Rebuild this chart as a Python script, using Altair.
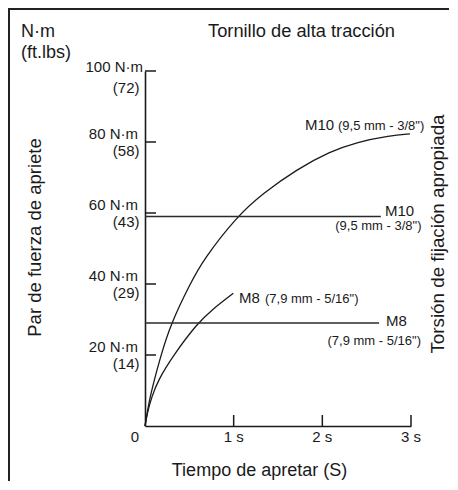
import altair as alt
import pandas as pd

# ---------------- data ----------------
m10_t = [0, 0.025, 0.056, 0.177, 0.293, 0.508, 0.657, 1.034, 1.334, 1.711, 2.086, 2.391, 2.763, 2.988]
m10_v = [0, 3.7, 8.3, 19.8, 28.9, 40.0, 46.8, 59.0, 65.6, 72.3, 77.3, 80.0, 81.8, 82.3]

m8_t = [0, 0.026, 0.076, 0.15, 0.316, 0.59, 0.752, 0.996]
m8_v = [0, 3.7, 8.25, 13.0, 19.8, 28.9, 32.7, 37.4]

ref_names = ["M10", "M8"]
ref_values = [59, 29]
ref_ends = [2.66, 2.64]

y_tick_values = [20, 40, 60, 80, 100]
y_tick_nm = ["20 N·m", "40 N·m", "60 N·m", "80 N·m", "100 N·m"]
y_tick_ft = ["(14)", "(29)", "(43)", "(58)", "(72)"]

x_tick_values = [1, 2, 3]
x_tick_labels = ["1 s", "2 s", "3 s"]
x_zero_label = ["0"]

title_text = "Tornillo de alta tracción"
unit_text = ["N·m", "(ft.lbs)"]
y_title = "Par de fuerza de apriete"
right_title = "Torsión de fijación apropiada"
x_title = "Tiempo de apretar (S)"
size_m10 = "(9,5 mm - 3/8\")"
size_m8 = "(7,9 mm - 5/16\")"

# ---------------- layout / style ----------------
W, H = 266, 355
FONT = "Liberation Sans, Arial, sans-serif"
INK = "#1a1a1a"

xs = alt.Scale(domain=[0, 3], nice=False, zero=False)
ys = alt.Scale(domain=[0, 100], nice=False, zero=False)
AX = dict(labels=False, ticks=False, grid=False, title=None,
          domain=True, domainColor=INK, domainWidth=1.6)
ax_x = alt.Axis(**AX)
ax_y = alt.Axis(**AX)

curves = pd.DataFrame({
    "t": m10_t + m8_t,
    "v": m10_v + m8_v,
    "serie": ["M10"] * len(m10_t) + ["M8"] * len(m8_t),
})

curve_layer = alt.Chart(curves).mark_line(
    color=INK, strokeWidth=1.3, interpolate="basis"
).encode(
    x=alt.X("t:Q", scale=xs, axis=ax_x),
    y=alt.Y("v:Q", scale=ys, axis=ax_y),
    detail="serie:N",
)

refs = pd.DataFrame({"serie": ref_names, "v": ref_values,
                     "t0": [0] * len(ref_names), "t1": ref_ends})
ref_layer = alt.Chart(refs).mark_rule(color="#2a2a2a", strokeWidth=1.5).encode(
    x=alt.X("t0:Q", scale=xs, axis=ax_x),
    x2="t1:Q",
    y=alt.Y("v:Q", scale=ys, axis=ax_y),
)

yt = pd.DataFrame({"v": y_tick_values, "nm": y_tick_nm, "ft": y_tick_ft})
y_ticks = alt.Chart(yt).mark_rule(color=INK, strokeWidth=1.5).encode(
    y=alt.Y("v:Q", scale=ys, axis=ax_y),
    x=alt.value(0), x2=alt.value(11),
)

xt = pd.DataFrame({"t": x_tick_values, "lab": x_tick_labels})
x_ticks = alt.Chart(xt).mark_rule(color=INK, strokeWidth=1.5).encode(
    x=alt.X("t:Q", scale=xs, axis=ax_x),
    y=alt.value(H), y2=alt.value(H - 11),
)


def ytext(field, dx, dy, flt):
    return alt.Chart(yt).transform_filter(flt).mark_text(
        align="right", baseline="middle", font=FONT, fontSize=15, color=INK,
        dx=dx, dy=dy,
    ).encode(
        y=alt.Y("v:Q", scale=ys, axis=ax_y),
        x=alt.value(0),
        text=f"{field}:N",
    )


ylab_nm = ytext("nm", -7, -8, "datum.v < 100")
ylab_ft = ytext("ft", -5.5, 9, "datum.v < 100")
ylab_nm_top = ytext("nm", -2, -4, "datum.v == 100")
ylab_ft_top = ytext("ft", -5.5, 17, "datum.v == 100")

xlab = alt.Chart(xt).mark_text(
    align="center", baseline="middle", font=FONT, fontSize=15, color=INK
).encode(
    x=alt.X("t:Q", scale=xs, axis=ax_x),
    y=alt.value(H + 11),
    text="lab:N",
)

xzero = alt.Chart(pd.DataFrame({"t": [0], "lab": x_zero_label})).mark_text(
    align="center", baseline="middle", font=FONT, fontSize=15, color=INK, dx=-10
).encode(
    x=alt.X("t:Q", scale=xs, axis=ax_x),
    y=alt.value(H + 11),
    text="lab:N",
)


def label(txt, x, y, size=15, align="left", angle=0, baseline="alphabetic"):
    return alt.Chart(pd.DataFrame({"label": [txt]})).mark_text(
        align=align, baseline=baseline, fontSize=size, font=FONT,
        color=INK, angle=angle,
    ).encode(x=alt.value(x), y=alt.value(y), text="label:N")


texts = [
    label(title_text, 63, -39, size=18.3, baseline="middle"),
    label(unit_text[0], -124, -39, size=18, baseline="middle"),
    label(unit_text[1], -124, -18, size=18, baseline="middle"),
    label(y_title, -110, 166.5, size=18.5, align="center", angle=270, baseline="middle"),
    label(right_title, 293, 163, size=18.8, align="center", angle=270, baseline="middle"),
    label(x_title, 114.5, 400, size=18, align="center", baseline="middle"),
    # curve labels
    label("M10", 160, 59),
    label(size_m10, 193, 59, size=13),
    label("M8", 94, 232.3),
    label(size_m8, 120, 232.3, size=13),
    # reference line labels
    label("M10", 240, 145),
    label(size_m10, 276.5, 159, size=13, align="right"),
    label("M8", 241, 255),
    label(size_m8, 276, 273.5, size=13, align="right"),
]

frame = pd.DataFrame({"k": [0]})
frame_left = alt.Chart(frame).mark_rule(color="#222222", strokeWidth=2).encode(
    x=alt.value(-136), y=alt.value(-62), y2=alt.value(H + 60))
frame_top = alt.Chart(frame).mark_rule(color="#222222", strokeWidth=2).encode(
    x=alt.value(-137), x2=alt.value(320), y=alt.value(-62))

chart = alt.layer(
    curve_layer, ref_layer, y_ticks, x_ticks,
    ylab_nm, ylab_ft, ylab_nm_top, ylab_ft_top, xlab, xzero,
    frame_left, frame_top, *texts,
).properties(
    width=W, height=H,
    padding={"left": 137, "top": 63, "right": 38, "bottom": 55},
    autosize=alt.AutoSizeParams(type="none"),
    background="white",
).configure_view(stroke=None)

chart.save("out.html", embed_options={"renderer": "svg", "actions": False})
